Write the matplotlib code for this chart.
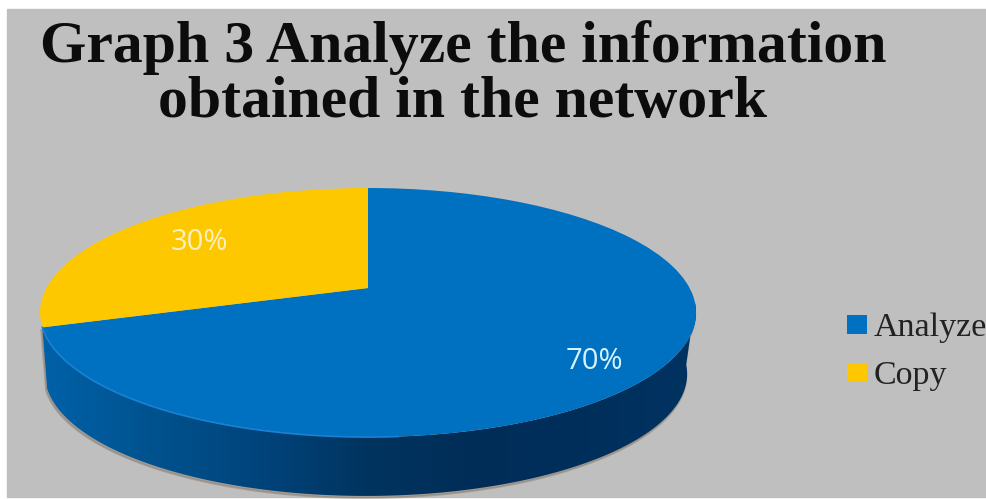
#!/usr/bin/env python3

import numpy as np
import matplotlib
matplotlib.use('Agg')
import matplotlib.pyplot as plt
from matplotlib.colors import LinearSegmentedColormap
from matplotlib.patches import Polygon, Rectangle
from matplotlib.transforms import Transform

labels = ['Analyze', 'Copy']
values = [70, 30]
colors = ['#0070c0', '#fdc800']

title = 'Graph 3 Analyze the information\nobtained in the network'

W, H = 987, 499

# disc geometry in pixels, top face seen in perspective
cx, cy = 368, 288
a, b, k = 321.6, 119.7, 0.197
depth = 62


class Tilt(Transform):
   # unit circle -> tilted disc in pixel coordinates
   input_dims = output_dims = 2

   def __init__(self, drop=0.0, scale=1.0):
      super().__init__()
      self.drop = drop
      self.scale = scale

   def transform_non_affine(self, values):
      xy = np.asarray(values, dtype=float)
      w = 1 + k * xy[:, 1]
      return np.column_stack([
         cx + self.scale * a * xy[:, 0] / w,
         cy + self.drop - self.scale * b * xy[:, 1] / w])


figure = plt.figure(figsize=(W / 100, H / 100), dpi=100, facecolor='white')
ax = figure.add_axes([0, 0, 1, 1])

wedges, _, autotexts = ax.pie(values, labels=None, colors=colors,
   startangle=90, counterclock=False, autopct='%d%%', pctdistance=0.7,
   textprops=dict(family='Open Sans', fontsize=21),
   wedgeprops=dict(linewidth=0))

ax.set_aspect('auto')
ax.set_xlim(0, W)
ax.set_ylim(H, 0)
ax.set_axis_off()

ax.add_patch(Rectangle((7, 9), W - 8, H - 11, color='#bfbfbf', zorder=-5))

top = Tilt()
for wedge in wedges:
   wedge.set_transform(top + ax.transData)
   wedge.set_zorder(3)

for text in autotexts:
   text.set_transform(top + ax.transData)
   text.set_zorder(4)
autotexts[0].set_position((0.627, -0.55))
autotexts[0].set_color('#d5f3ff')
autotexts[1].set_color('#fdf0c0')

# side wall of the disc
theta = np.radians(np.linspace(198, 353, 200))
circle = np.column_stack([np.cos(theta), np.sin(theta)])
upper = top.transform(circle)
lower = Tilt(depth, 0.979).transform(circle) + (-2, 0)
outline = np.vstack([upper, lower[::-1]])

shadow = Polygon(outline + (-1, 2), closed=True, color='#8a7f72', alpha=0.5,
   linewidth=1.5, zorder=1)
ax.add_patch(shadow)
wall = Polygon(outline, closed=True, facecolor='none', edgecolor='none', zorder=2)
ax.add_patch(wall)

shade = LinearSegmentedColormap.from_list('shade',
   ['#0062aa', '#00538f', '#00447c', '#00345f', '#002d58', '#002f5c', '#003362'])
image = ax.imshow(np.linspace(0, 1, 256)[None, :], cmap=shade, aspect='auto',
   extent=(cx - a - 10, cx + a + 12, cy + 240, cy - 50), zorder=2)
image.set_clip_path(wall)
ax.set_xlim(0, W)
ax.set_ylim(H, 0)

# lit rim along the front left edge
rim = theta < np.radians(275)
ax.plot(upper[rim, 0], upper[rim, 1], color='#1a82d2', linewidth=1.2, zorder=3)

ax.text(463, 75, title, ha='center', va='center', family='Liberation Serif',
   fontweight='bold', fontsize=43, color='#0c0c0c', linespacing=1.02)

ax.legend(wedges, labels, loc='center left', bbox_to_anchor=(847 / W, 1 - 352 / H),
   frameon=False, prop=dict(family='Liberation Serif', size=24.5),
   handlelength=0.59, handleheight=0.47, handletextpad=0.18, labelspacing=0.51,
   borderpad=0, borderaxespad=0, labelcolor='#222222')

figure.savefig('out.png', dpi=100)
